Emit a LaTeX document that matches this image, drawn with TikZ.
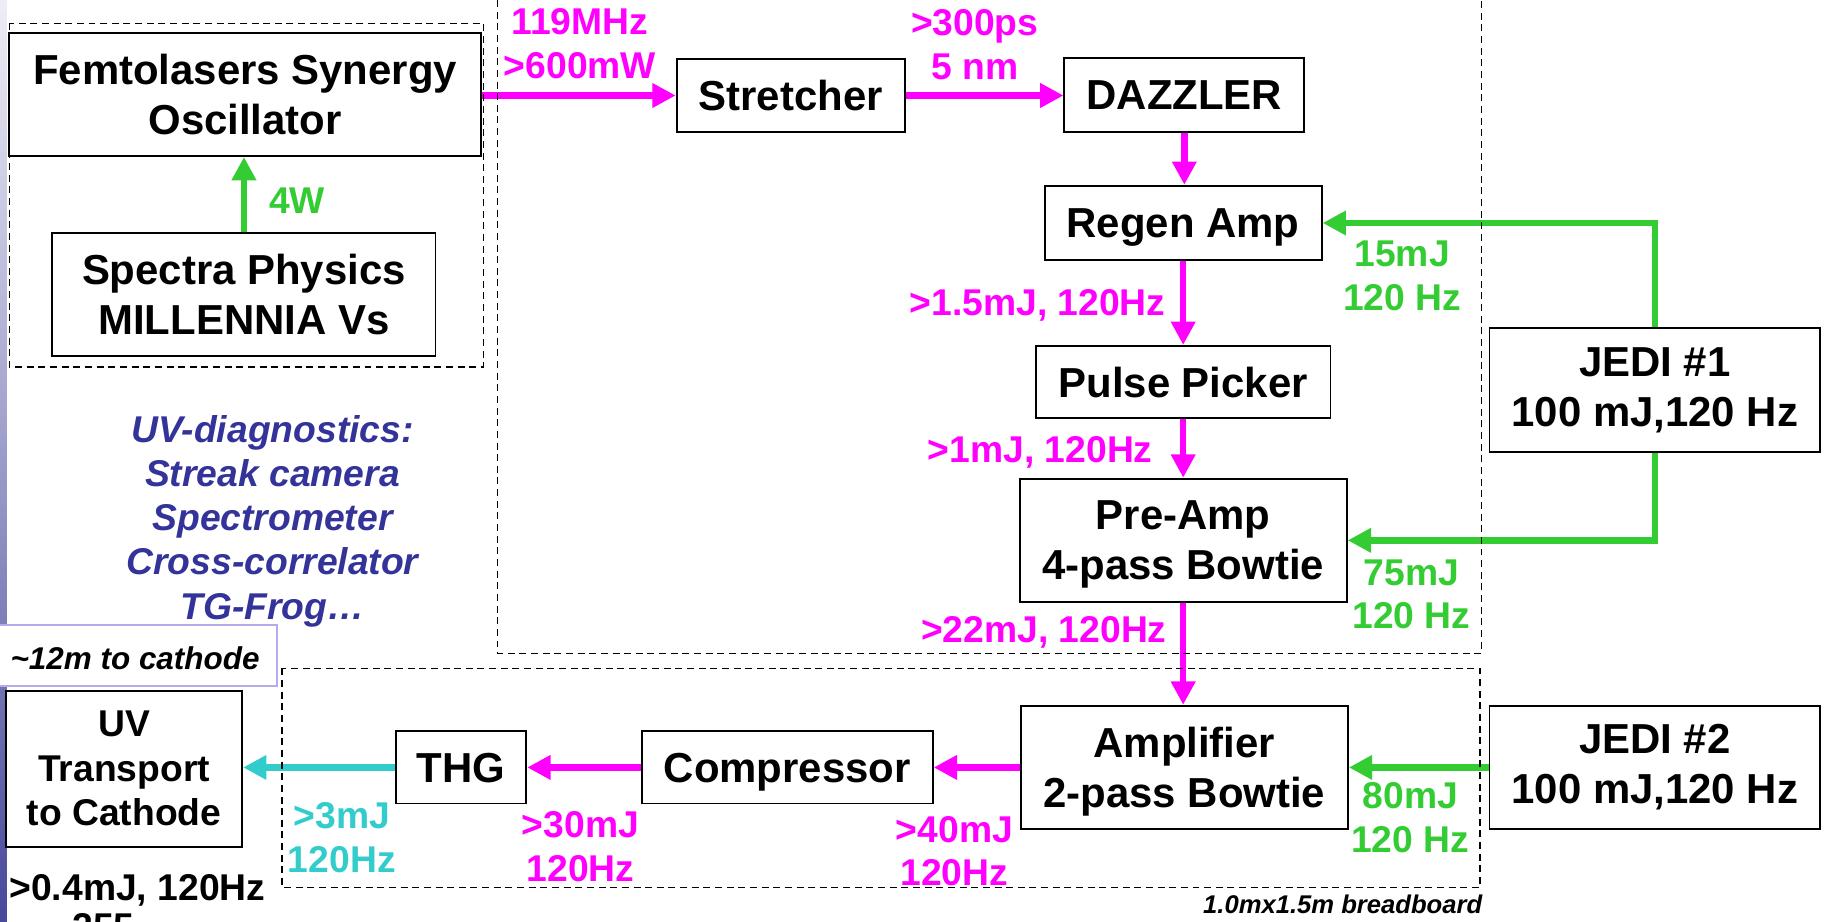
\documentclass[tikz,border=0pt]{standalone}
\usepackage{fontspec}
\setmainfont{Liberation Sans}
\usetikzlibrary{arrows.meta}
\definecolor{mag}{RGB}{255,0,255}
\definecolor{grn}{RGB}{51,204,51}
\definecolor{cyn}{RGB}{51,204,204}
\definecolor{diagblue}{RGB}{51,51,153}
\definecolor{lilac}{RGB}{180,170,236}
\definecolor{bartop}{RGB}{238,238,246}
\definecolor{barbot}{RGB}{72,72,156}
\newcommand\myfs[2]{\fontsize{#1}{#2}\selectfont\bfseries}
\begin{document}
\begin{tikzpicture}[x=1pt,y=-1pt,
  box/.style={draw, line width=1.6pt, inner sep=0pt, align=center, font=\myfs{36}{43}},
  onebox/.style={box, text depth=0pt},
  grp/.style={line width=1.3pt, dash pattern=on 6pt off 4pt},
  flow/.style={line width=5.5pt, -{Triangle[length=20pt,width=20pt]}},
  lab/.style={inner sep=0pt, align=center, font=\myfs{32}{37.5}},
]
\useasboundingbox (0,0) rectangle (1568,791);
\fill[white] (0,0) rectangle (1568,791);
\shade[top color=bartop, bottom color=barbot] (0,0) rectangle (6,791);

% boxes
\node[box, minimum width=405, minimum height=106] (fem) at (210.5,81) {Femtolasers Synergy\\Oscillator};
\node[box, minimum width=329, minimum height=106] (spec) at (209.5,253) {Spectra Physics\\MILLENNIA Vs};
\node[onebox, minimum width=196, minimum height=62] (str) at (679,82) {Stretcher};
\node[onebox, minimum width=206, minimum height=63] (daz) at (1017,81.5) {DAZZLER};
\node[onebox, minimum width=238, minimum height=64] (regen) at (1016,191.5) {Regen Amp};
\node[onebox, minimum width=253, minimum height=62] (pp) at (1016,328) {Pulse Picker};
\node[box, minimum width=281, minimum height=106] (pre) at (1016,464) {Pre-Amp\\\smash{4-pass Bowtie}};
\node[box, minimum width=284, minimum height=106] (jedi1) at (1421,335) {JEDI \#1\\100 mJ,120 Hz};
\node[box, minimum width=281, minimum height=106] (amp) at (1017,659) {Amplifier\\\smash{2-pass Bowtie}};
\node[box, minimum width=284, minimum height=106] (jedi2) at (1421,659) {JEDI \#2\\100 mJ,120 Hz};
\node[onebox, minimum width=250, minimum height=62] (comp) at (676,659) {Compressor};
\node[onebox, minimum width=112, minimum height=62] (thg) at (396,659) {THG};
\node[box, minimum width=203, minimum height=134, font=\myfs{32}{38}] (uv) at (106.5,660) {UV\\Transport\\to Cathode};

% distance box
\node[draw=lilac, fill=white, line width=1.5pt, inner sep=0pt, minimum width=240, minimum height=52] (twelve) at (118,563) {};
\node[anchor=base, inner sep=0pt, font=\myfs{27}{30}\itshape] (l12) at (116,574.7) {\textasciitilde 12m to cathode};

% connectors
\draw[flow, grn] (spec.north) -- (spec.north |- fem.south);
\draw[flow, mag] (fem.east |- str.west) -- (str.west);
\draw[flow, mag] (str.east) -- (str.east -| daz.west);
\draw[flow, mag] (daz.south) -- (daz.south |- regen.north);
\draw[flow, mag] (regen.south) -- (regen.south |- pp.north);
\draw[flow, mag] (pp.south) -- (pp.south |- pre.north);
\draw[flow, mag] (pre.south) -- (pre.south |- amp.north);
\draw[flow, grn] (jedi1.north) |- (regen.east);
\draw[flow, grn] (jedi1.south) |- (pre.east);
\draw[flow, grn] (jedi2.west) -- (amp.east |- jedi2.west);
\draw[flow, mag] (amp.west |- comp.east) -- (comp.east);
\draw[flow, mag] (comp.west) -- (thg.east);
\draw[flow, cyn] (thg.west) -- (uv.east |- thg.west);

% labels
\node[lab, mag] (l119) at (498,37.3) {119MHz\\>600mW};
\node[lab, mag] (l300) at (837,38.5) {>300ps\\5 nm};
\node[lab, grn, anchor=base] (l4w) at (255,183.5) {4W};
\node[lab, mag, anchor=base east] (l15) at (1001,270.5) {>1.5mJ, 120Hz};
\node[lab, mag, anchor=base east] (l1) at (990,397.5) {>1mJ, 120Hz};
\node[lab, mag, anchor=base east] (l22) at (1002,551.5) {>22mJ, 120Hz};
\node[lab, grn] (g15) at (1204,237) {15mJ\\120 Hz};
\node[lab, grn] (g75) at (1212,510.5) {75mJ\\120 Hz};
\node[lab, grn] (g80) at (1211,702) {80mJ\\120 Hz};
\node[lab, mag] (l40) at (819.5,731) {>40mJ\\120Hz};
\node[lab, mag] (l30) at (498.5,727) {>30mJ\\120Hz};
\node[lab, cyn] (l3) at (293.5,719.5) {>3mJ\\120Hz};
\node[lab, anchor=base, font=\myfs{32}{38}] (l04) at (118,773.5) {>0.4mJ, 120Hz};
\node[lab, anchor=base west, font=\myfs{32}{38}] (l255) at (62,807) {255};
\node[lab, diagblue, font=\myfs{32}{38}\itshape] (diag) at (234,444) {UV-diagnostics:\\Streak camera\\Spectrometer\\Cross-correlator\\\smash{TG-Frog…}};
\node[anchor=base east, inner sep=0pt, font=\myfs{22}{26}\itshape] (bb) at (1273,784) {1.0mx1.5m breadboard};

% group frames
\draw[grp] (8,20) rectangle (415,315);
\draw[grp] (427,-20) rectangle (1272,561);
\draw[grp] (242,574) rectangle (1271,762);
\end{tikzpicture}
\end{document}
